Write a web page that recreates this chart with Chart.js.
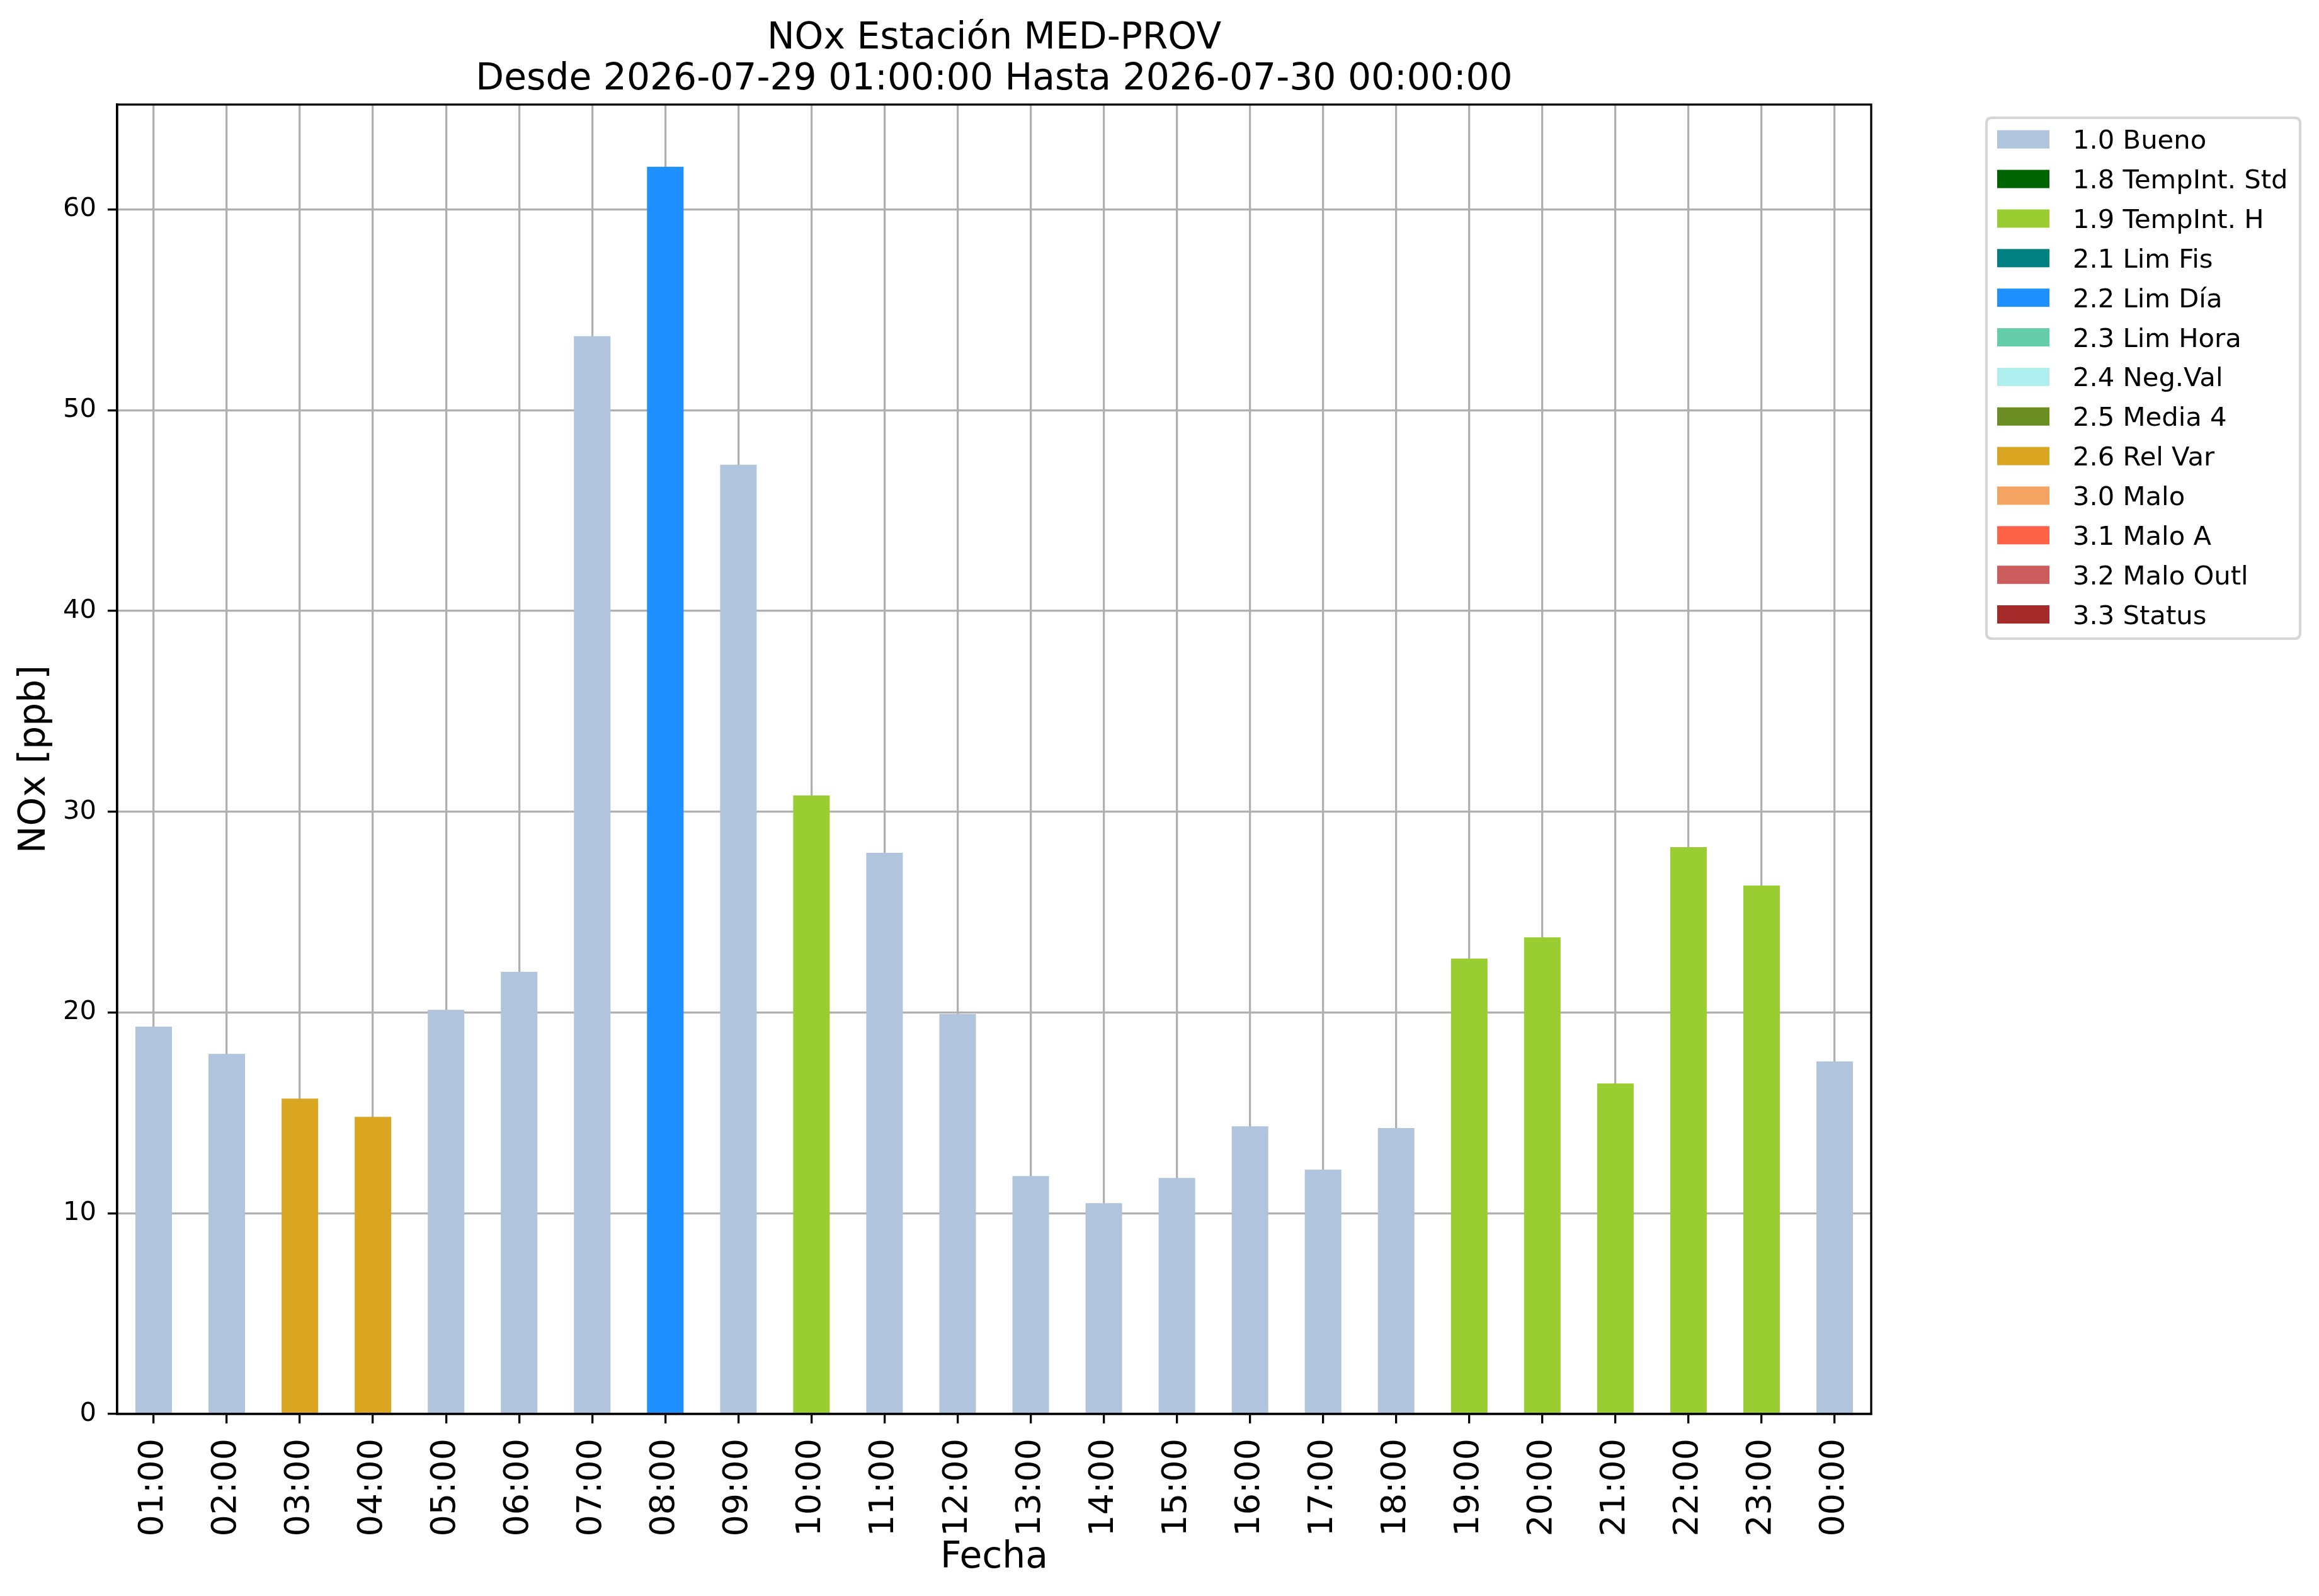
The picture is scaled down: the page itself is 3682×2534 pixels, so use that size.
<!DOCTYPE html>
<html>
<head>
<meta charset="utf-8">
<script src="https://cdn.jsdelivr.net/npm/chart.js@4.4.1/dist/chart.umd.min.js"></script>
<style>
html, body { margin: 0; padding: 0; background: #ffffff; }
#wrap { width: 3682px; height: 2534px; position: relative; background: #ffffff; }
</style>
</head>
<body>
<div id="wrap"><canvas id="c" width="3682" height="2534" style="width:3682px;height:2534px"></canvas></div>
<script>
// ---- data ----
const hours = ['01:00','02:00','03:00','04:00','05:00','06:00','07:00','08:00','09:00','10:00','11:00','12:00',
               '13:00','14:00','15:00','16:00','17:00','18:00','19:00','20:00','21:00','22:00','23:00','00:00'];
const noxValues = [19.29, 17.94, 15.71, 14.80, 20.13, 22.02, 53.68, 62.12, 47.28, 30.81, 27.95, 19.92,
                   11.85, 10.50, 11.76, 14.33, 12.17, 14.24, 22.68, 23.74, 16.46, 28.23, 26.32, 17.56];
const hourFlags = ['1.0 Bueno','1.0 Bueno','2.6 Rel Var','2.6 Rel Var','1.0 Bueno','1.0 Bueno','1.0 Bueno','2.2 Lim Día',
                   '1.0 Bueno','1.9 TempInt. H','1.0 Bueno','1.0 Bueno','1.0 Bueno','1.0 Bueno','1.0 Bueno','1.0 Bueno',
                   '1.0 Bueno','1.0 Bueno','1.9 TempInt. H','1.9 TempInt. H','1.9 TempInt. H','1.9 TempInt. H','1.9 TempInt. H','1.0 Bueno'];
const flagLabels = ['1.0 Bueno','1.8 TempInt. Std','1.9 TempInt. H','2.1 Lim Fis','2.2 Lim Día','2.3 Lim Hora',
                    '2.4 Neg.Val','2.5 Media 4','2.6 Rel Var','3.0 Malo','3.1 Malo A','3.2 Malo Outl','3.3 Status'];
const flagColors = ['#B0C4DE','#006400','#9ACD32','#008080','#1E90FF','#66CDAA',
                    '#AFEEEE','#6B8E23','#DAA520','#F4A460','#FF6347','#CD5C5C','#A52A2A'];
const titleLines = ['NOx Estación MED-PROV', 'Desde 2026-07-29 01:00:00 Hasta 2026-07-30 00:00:00'];
const xAxisTitle = 'Fecha';
const yAxisTitle = 'NOx [ppb]';
const yMin = 0;
const yMax = 65.22;
const yStep = 10;

// ---- build datasets ----
const datasets = flagLabels.map((lab, k) => ({
  label: lab,
  backgroundColor: flagColors[k],
  borderWidth: 0,
  categoryPercentage: 1.0,
  barPercentage: 0.5,
  data: noxValues.map((v, i) => hourFlags[i] === lab ? v : null)
}));

const FONT = 'DejaVu Sans';
const GRID = '#b0b0b0';
const LW = 3.3;

const framePlugin = {
  id: 'frameTitleLegend',
  afterDraw(chart) {
    const ctx = chart.ctx;
    const a = chart.chartArea;
    ctx.save();
    // full axes frame
    ctx.strokeStyle = '#000';
    ctx.lineWidth = LW;
    ctx.strokeRect(a.left, a.top, a.right - a.left, a.bottom - a.top);
    // title
    ctx.fillStyle = '#000';
    ctx.font = '58.3px "' + FONT + '"';
    ctx.textAlign = 'center';
    ctx.textBaseline = 'alphabetic';
    const cx = (a.left + a.right) / 2;
    ctx.fillText(titleLines[0], cx, 76.5);
    ctx.fillText(titleLines[1], cx, 141.6);
    // legend
    const lx = 3154, ly = 187, lw = 498, lh = 827, r = 9;
    ctx.beginPath();
    ctx.moveTo(lx + r, ly);
    ctx.lineTo(lx + lw - r, ly);
    ctx.quadraticCurveTo(lx + lw, ly, lx + lw, ly + r);
    ctx.lineTo(lx + lw, ly + lh - r);
    ctx.quadraticCurveTo(lx + lw, ly + lh, lx + lw - r, ly + lh);
    ctx.lineTo(lx + r, ly + lh);
    ctx.quadraticCurveTo(lx, ly + lh, lx, ly + lh - r);
    ctx.lineTo(lx, ly + r);
    ctx.quadraticCurveTo(lx, ly, lx + r, ly);
    ctx.closePath();
    ctx.fillStyle = 'rgba(255,255,255,0.8)';
    ctx.fill();
    ctx.strokeStyle = '#d6d6d6';
    ctx.lineWidth = 4.2;
    ctx.stroke();
    ctx.font = '41.7px "' + FONT + '"';
    ctx.textAlign = 'left';
    chart.data.datasets.forEach((ds, i) => {
      const top = 206.8 + 62.85 * i;
      ctx.fillStyle = ds.backgroundColor;
      ctx.fillRect(3171, top, 83, 29);
      ctx.fillStyle = '#000';
      ctx.fillText(ds.label, 3291, top + 29.5);
    });
    ctx.restore();
  }
};

new Chart(document.getElementById('c'), {
  type: 'bar',
  data: { labels: hours, datasets: datasets },
  options: {
    responsive: false,
    devicePixelRatio: 1,
    animation: false,
    layout: { padding: { left: 0, top: 166, right: 711, bottom: 0 } },
    plugins: {
      legend: { display: false },
      title: { display: false },
      tooltip: { enabled: false }
    },
    scales: {
      x: {
        stacked: true,
        offset: true,
        z: 1,
        grid: { color: GRID, lineWidth: LW, offset: false, tickColor: '#000', tickLength: 15, tickWidth: LW },
        border: { color: '#000', width: LW },
        ticks: { color: '#000', font: { family: FONT, size: 54 }, minRotation: 90, maxRotation: 90, padding: 24, autoSkip: false },
        title: { display: true, text: xAxisTitle, color: '#000', font: { family: FONT, size: 58.3 }, padding: { top: 0, bottom: 25 } },
        afterFit: (s) => { s.height = 289; }
      },
      y: {
        stacked: true,
        min: yMin,
        max: yMax,
        z: 1,
        grid: { color: GRID, lineWidth: LW, tickColor: '#000', tickLength: 15, tickWidth: LW },
        border: { color: '#000', width: LW },
        ticks: { stepSize: yStep, includeBounds: false, color: '#000', font: { family: FONT, size: 41.7 }, padding: 18 },
        title: { display: true, text: yAxisTitle, color: '#000', font: { family: FONT, size: 58.3 }, padding: { top: 21, bottom: 0 } },
        afterFit: (s) => { s.width = 186; }
      }
    }
  },
  plugins: [framePlugin]
});
</script>
</body>
</html>
